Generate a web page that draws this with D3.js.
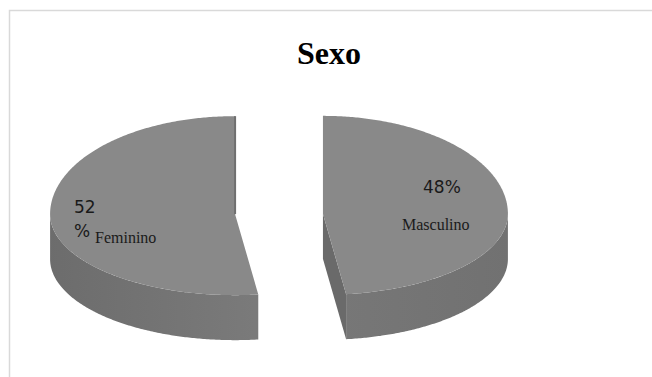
<!DOCTYPE html>
<html>
<head>
<meta charset="utf-8">
<script src="https://cdn.jsdelivr.net/npm/d3@7"></script>
<style>
  html, body { margin: 0; padding: 0; background: #fff; }
  svg { display: block; }
</style>
</head>
<body>
<svg id="chart" width="652" height="377"></svg>
<script>
// ---- data ----
const title = "Sexo";
const categories = ["Masculino", "Feminino"];
const values = [48, 52];

// ---- layout ----
const W = 652, H = 377;
const cx0 = 279, cy0 = 214;      // pie centre (top surface)
const rx = 185, ryBack = 98, ryFront = 81, depth = 45;
const explode = 44;

const svg = d3.select("#chart");

// frame
svg.append("path")
  .attr("d", `M9.5,${H} L9.5,10.5 L${W},10.5`)
  .attr("fill", "none").attr("stroke", "#d9d9d9").attr("stroke-width", 1.5);

// title
svg.append("text")
  .attr("x", 329).attr("y", 64)
  .attr("text-anchor", "middle")
  .attr("font-family", "'Liberation Serif', 'Times New Roman', serif")
  .attr("font-weight", "bold")
  .attr("font-size", 32)
  .attr("fill", "#000")
  .text(title);

const defs = svg.append("defs");
const g1 = defs.append("linearGradient").attr("id", "wall")
  .attr("gradientUnits", "userSpaceOnUse")
  .attr("x1", 45).attr("x2", 510).attr("y1", 0).attr("y2", 0);
g1.append("stop").attr("offset", 0).attr("stop-color", "#6c6c6c");
g1.append("stop").attr("offset", 0.45).attr("stop-color", "#7a7a7a");
g1.append("stop").attr("offset", 1).attr("stop-color", "#717171");

const pie = d3.pie().sort(null).value(d => d).startAngle(0).endAngle(2 * Math.PI);
const arcs = pie(values);

function P(a, cx, cy, z) {
  const c = Math.cos(a);
  return [cx + rx * Math.sin(a), cy - (c > 0 ? ryBack : ryFront) * c + (z || 0)];
}
function samples(a0, a1) {
  const n = Math.max(2, Math.ceil(Math.abs(a1 - a0) / 0.01));
  return d3.range(n + 1).map(i => a0 + (a1 - a0) * i / n);
}
const line = d3.line();

arcs.forEach((d, i) => {
  const mid = (d.startAngle + d.endAngle) / 2;
  const cx = cx0 + explode * Math.sin(mid);
  const cy = cy0 - explode * Math.cos(mid) * 0.05;
  const g = svg.append("g");

  // radial cut face at end angle (visible for the right-hand slice)
  if (i === 0) {
    const a = d.endAngle;
    const pts = [[cx, cy], P(a, cx, cy), P(a, cx, cy, depth), [cx, cy + depth]];
    g.append("path").attr("d", line(pts) + "Z").attr("fill", "#6a6a6a");
  }

  // outer wall (front half only)
  const s = Math.max(d.startAngle, Math.PI / 2);
  const e = Math.min(d.endAngle, 3 * Math.PI / 2);
  if (e > s) {
    const top = samples(s, e).map(a => P(a, cx, cy));
    const bot = samples(e, s).map(a => P(a, cx, cy, depth));
    g.append("path").attr("d", line(top.concat(bot)) + "Z").attr("fill", "url(#wall)");
  }

  // top surface
  const topPts = [[cx, cy]].concat(samples(d.startAngle, d.endAngle).map(a => P(a, cx, cy)));
  g.append("path").attr("d", line(topPts) + "Z").attr("fill", "#898989");

  // thin visible back cut face of left slice
  if (i === 1) {
    const pb = P(d.endAngle, cx, cy);
    g.append("line").attr("x1", cx).attr("y1", cy).attr("x2", pb[0]).attr("y2", pb[1])
      .attr("stroke", "#6f6f6f").attr("stroke-width", 2);
  }
});

// labels
const pctFont = "'DejaVu Sans', Verdana, sans-serif";
const catFont = "'Liberation Serif', 'Times New Roman', serif";
const total = d3.sum(values);
const pcts = values.map(v => Math.round(v / total * 100));

// Masculino
svg.append("text").attr("x", 423).attr("y", 193)
  .attr("font-family", pctFont).attr("font-size", 17).attr("fill", "#1a1a1a")
  .text(pcts[0] + "%");
svg.append("text").attr("x", 402).attr("y", 230)
  .attr("font-family", catFont).attr("font-size", 16).attr("fill", "#1a1a1a")
  .text(categories[0]);

// Feminino (percentage wrapped on two lines)
svg.append("text").attr("x", 74).attr("y", 213)
  .attr("font-family", pctFont).attr("font-size", 17).attr("fill", "#1a1a1a")
  .text(String(pcts[1]));
svg.append("text").attr("x", 74).attr("y", 237)
  .attr("font-family", pctFont).attr("font-size", 17).attr("fill", "#1a1a1a")
  .text("%");
svg.append("text").attr("x", 95).attr("y", 243)
  .attr("font-family", catFont).attr("font-size", 16).attr("fill", "#1a1a1a")
  .text(categories[1]);
</script>
</body>
</html>
